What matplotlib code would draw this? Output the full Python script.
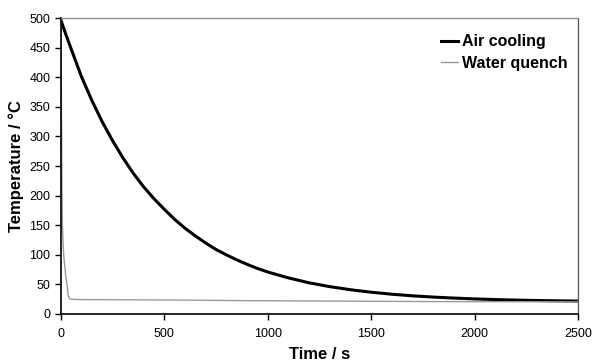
import matplotlib
matplotlib.use('Agg')
import matplotlib.pyplot as plt

plt.rcParams['font.family'] = ['Liberation Sans', 'DejaVu Sans']

# air cooling curve
t_air = [0, 25, 50, 100, 150, 200, 250, 300, 350, 400, 450, 500, 550, 600, 650, 700,
         750, 800, 850, 900, 950, 1000, 1100, 1200, 1300, 1400, 1500, 1600, 1700,
         1800, 1900, 2000, 2100, 2200, 2300, 2400, 2500]
T_air = [497, 472, 448, 401, 361, 325, 293, 264, 238, 215, 195, 177, 160, 145, 132, 120,
         109, 100, 91.5, 84, 77, 71, 61, 52.7, 46.2, 41, 36.8, 33.4, 30.7,
         28.6, 26.9, 25.5, 24.4, 23.5, 22.8, 22.3, 21.8]

# water quench curve
t_water = [0, 2, 4, 6, 8, 11, 14, 17, 20, 24, 30, 36, 42, 50, 70, 100, 300, 600, 900,
           1200, 1500, 1800, 2100, 2500]
T_water = [497, 420, 300, 200, 150, 120, 100, 88, 78, 64, 50, 31, 26, 25, 24.6, 24.4,
           24, 23.5, 22.5, 22, 21.5, 21, 20.8, 20.5]

fig = plt.figure(figsize=(5.96, 3.63), dpi=100)
ax = fig.add_axes([0.102, 0.135, 0.868, 0.815])

ax.plot(t_air, T_air, color='black', lw=2.2, label='Air cooling')
ax.plot(t_water, T_water, color='#9a9a9a', lw=1.0, label='Water quench')

ax.set_xlim(0, 2500)
ax.set_ylim(0, 500)
ax.set_xticks(range(0, 2501, 500))
ax.set_yticks(range(0, 501, 50))
ax.tick_params(direction='out', length=4, width=1, labelsize=9, colors='black')
ax.tick_params(axis='x', pad=6)

for s in ['left', 'bottom']:
    ax.spines[s].set_linewidth(1.2)
ax.spines['top'].set_color('#888888')
ax.spines['top'].set_linewidth(0.9)
ax.spines['right'].set_color('#555555')
ax.spines['right'].set_linewidth(0.9)

ax.set_xlabel('Time / s', fontsize=12, fontweight='bold', labelpad=5)
ax.set_ylabel('Temperature / °C', fontsize=12, fontweight='bold', labelpad=4)

leg = ax.legend(loc='upper right', bbox_to_anchor=(1.008, 0.994), frameon=False,
                handlelength=1.1, handletextpad=0.25, labelspacing=0.4,
                prop={'size': 11.5, 'weight': 'bold'})

fig.savefig('out.png', dpi=100)
